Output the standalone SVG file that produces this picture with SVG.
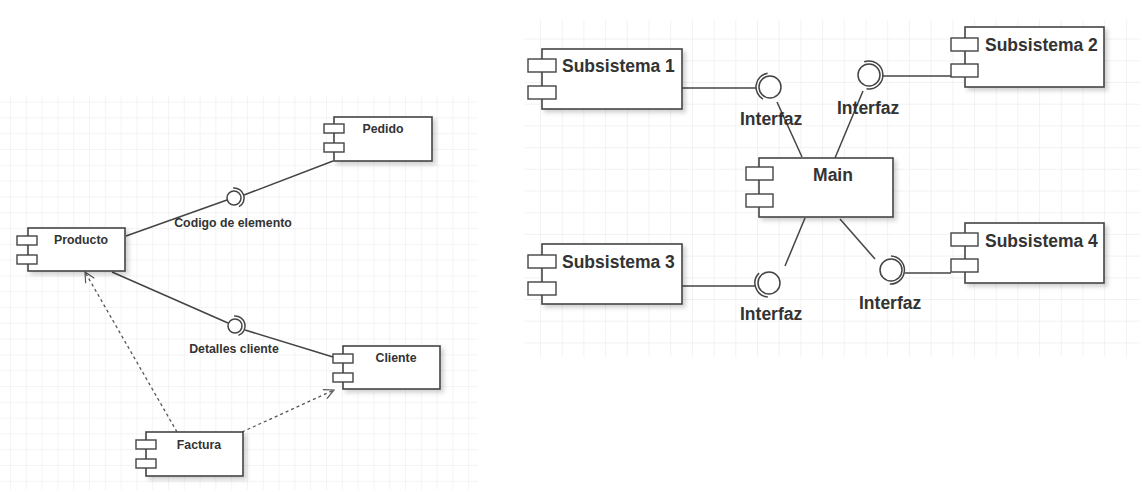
<svg xmlns="http://www.w3.org/2000/svg" width="1142" height="492" viewBox="0 0 1142 492">
<defs>
<pattern id="gridL" x="10" y="101.6" width="15.8" height="15.8" patternUnits="userSpaceOnUse">
<path d="M0 0H15.8M0 0V15.8" fill="none" stroke="#e9e9ec" stroke-width="1"/>
</pattern>
<pattern id="gridR" x="540" y="38.6" width="21.7" height="21.7" patternUnits="userSpaceOnUse">
<path d="M0 0H21.7M0 0V21.7" fill="none" stroke="#e6e6e8" stroke-width="1"/>
</pattern>
<filter id="sh" x="-10%" y="-20%" width="130%" height="150%">
<feDropShadow dx="3" dy="3" stdDeviation="2" flood-color="#000" flood-opacity="0.18"/>
</filter>
<marker id="open" viewBox="0 0 12 12" refX="11" refY="6" markerWidth="12" markerHeight="12" markerUnits="userSpaceOnUse" orient="auto">
<path d="M1 1L11 6L1 11" fill="none" stroke="#555" stroke-width="1.2"/>
</marker>
</defs>
<style>
.body{fill:#fff;stroke:#444;stroke-width:1.6;filter:url(#sh)}
.icon{fill:#fff;stroke:#444;stroke-width:1.4}
.ln{fill:none;stroke:#444;stroke-width:1.5}
.dash{fill:none;stroke:#555;stroke-width:1.3;stroke-dasharray:3 3}
.ball{fill:#fff;stroke:#444;stroke-width:1.5}
.tl{font-family:"Liberation Sans",Arial,sans-serif;font-weight:bold;font-size:12.3px;fill:#333}
.tr{font-family:"Liberation Sans",Arial,sans-serif;font-weight:bold;font-size:17.5px;fill:#333}
</style>
<rect width="1142" height="492" fill="#fff"/>
<rect x="0" y="95" width="478" height="395" fill="url(#gridL)"/>
<rect x="525" y="20" width="615" height="337" fill="url(#gridR)"/>

<g id="connectors">
<line class="ln" x1="126" y1="236" x2="227" y2="200"/>
<line class="ln" x1="244" y1="195" x2="333" y2="161"/>
<line class="ln" x1="112" y1="272" x2="228" y2="323"/>
<line class="ln" x1="245" y1="330" x2="333" y2="357"/>
<line class="dash" x1="177" y1="432" x2="85" y2="272" marker-end="url(#open)"/>
<line class="dash" x1="242" y1="432" x2="334" y2="390" marker-end="url(#open)"/>
<line class="ln" x1="682" y1="88" x2="756" y2="88"/>
<line class="ln" x1="802" y1="157" x2="777" y2="102"/>
<line class="ln" x1="883" y1="76" x2="951" y2="76"/>
<line class="ln" x1="835" y1="158" x2="863" y2="91"/>
<line class="ln" x1="682" y1="286" x2="755" y2="286"/>
<line class="ln" x1="805" y1="218" x2="785" y2="266"/>
<line class="ln" x1="905" y1="273" x2="951" y2="273"/>
<line class="ln" x1="840" y1="219" x2="875" y2="259"/>
</g>

<g id="iface-codigo">
<circle class="ball" cx="234" cy="198" r="7"/>
<path class="ln" d="M233.1 188A10 10 0 0 1 239 206.7"/>
<text class="tl" x="233" y="227" text-anchor="middle">Codigo de elemento</text>
</g>
<g id="iface-detalles">
<circle class="ball" cx="235" cy="326" r="7"/>
<path class="ln" d="M234.1 316A10 10 0 0 1 238.4 335.4"/>
<text class="tl" x="234" y="353" text-anchor="middle">Detalles cliente</text>
</g>

<g id="pedido">
<rect class="body" x="334" y="117" width="98" height="44"/>
<rect class="icon" x="324" y="124" width="20" height="9"/>
<rect class="icon" x="324" y="143" width="20" height="9"/>
<text class="tl" x="383" y="133" text-anchor="middle">Pedido</text>
</g>
<g id="producto">
<rect class="body" x="28" y="228" width="97" height="43"/>
<rect class="icon" x="17" y="236" width="20" height="9"/>
<rect class="icon" x="17" y="255" width="20" height="9"/>
<text class="tl" x="81" y="244" text-anchor="middle">Producto</text>
</g>
<g id="cliente">
<rect class="body" x="343" y="346" width="97" height="43"/>
<rect class="icon" x="333" y="354" width="20" height="9"/>
<rect class="icon" x="333" y="373" width="20" height="9"/>
<text class="tl" x="396" y="362" text-anchor="middle">Cliente</text>
</g>
<g id="factura">
<rect class="body" x="146" y="432" width="97" height="44"/>
<rect class="icon" x="136" y="440" width="20" height="9"/>
<rect class="icon" x="136" y="459" width="20" height="9"/>
<text class="tl" x="199" y="449" text-anchor="middle">Factura</text>
</g>

<g id="iface-1">
<circle class="ball" cx="770" cy="87" r="11"/>
<path class="ln" d="M767.6 73.2A14 14 0 0 0 763 99.1"/>
<text class="tr" x="740" y="125">Interfaz</text>
</g>
<g id="iface-2">
<circle class="ball" cx="869" cy="75" r="11"/>
<path class="ln" d="M864.2 61.8A14 14 0 1 1 866.6 88.8"/>
<text class="tr" x="837" y="114">Interfaz</text>
</g>
<g id="iface-3">
<circle class="ball" cx="769" cy="283" r="11"/>
<path class="ln" d="M759.1 273.1A14 14 0 0 0 767.8 297"/>
<text class="tr" x="740" y="320">Interfaz</text>
</g>
<g id="iface-4">
<circle class="ball" cx="891" cy="270" r="11"/>
<path class="ln" d="M891 256A14 14 0 1 1 889.8 284"/>
<text class="tr" x="859" y="309">Interfaz</text>
</g>

<g id="subsistema1">
<rect class="body" x="542" y="49" width="140" height="60"/>
<rect class="icon" x="528" y="59" width="28" height="13"/>
<rect class="icon" x="528" y="86" width="28" height="13"/>
<text class="tr" x="562" y="72">Subsistema 1</text>
</g>
<g id="subsistema2">
<rect class="body" x="965" y="27" width="139" height="60"/>
<rect class="icon" x="951" y="38" width="27" height="13"/>
<rect class="icon" x="951" y="64" width="27" height="13"/>
<text class="tr" x="985" y="51">Subsistema 2</text>
</g>
<g id="main">
<rect class="body" x="759" y="158" width="134" height="59"/>
<rect class="icon" x="746" y="167" width="27" height="13"/>
<rect class="icon" x="746" y="194" width="27" height="13"/>
<text class="tr" x="833" y="181" text-anchor="middle">Main</text>
</g>
<g id="subsistema3">
<rect class="body" x="542" y="244" width="140" height="60"/>
<rect class="icon" x="528" y="255" width="28" height="13"/>
<rect class="icon" x="528" y="282" width="28" height="13"/>
<text class="tr" x="562" y="268">Subsistema 3</text>
</g>
<g id="subsistema4">
<rect class="body" x="965" y="223" width="139" height="60"/>
<rect class="icon" x="951" y="233" width="27" height="13"/>
<rect class="icon" x="951" y="259" width="27" height="13"/>
<text class="tr" x="985" y="247">Subsistema 4</text>
</g>
</svg>
